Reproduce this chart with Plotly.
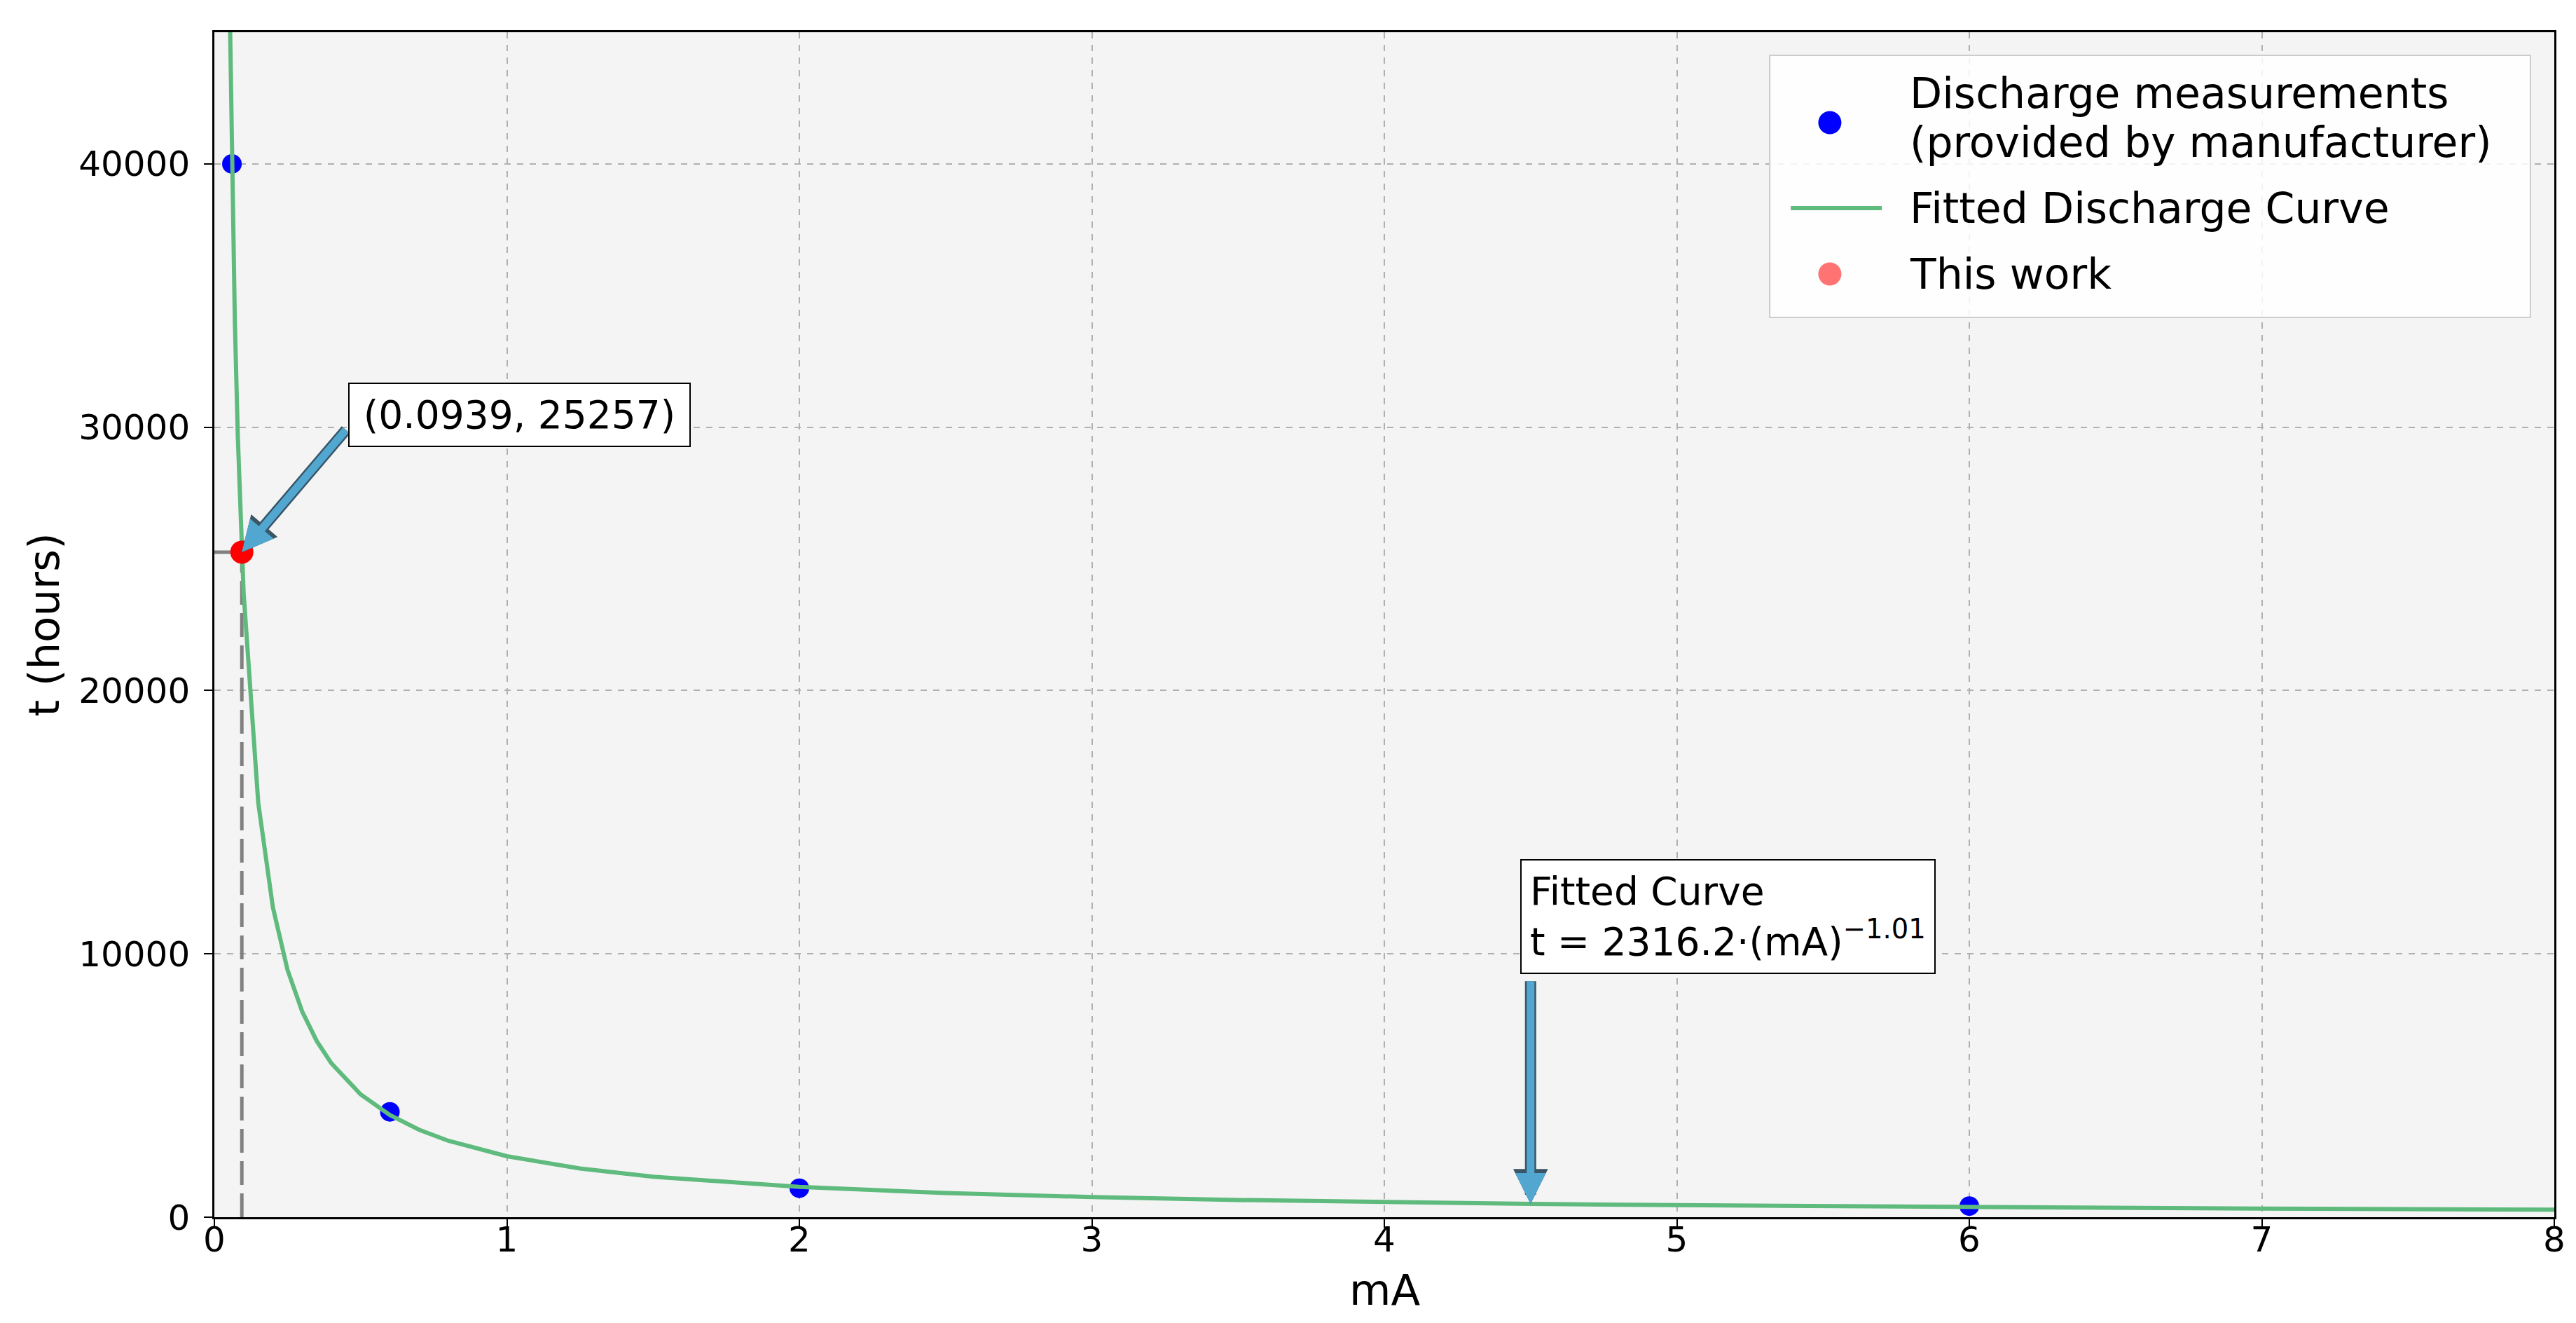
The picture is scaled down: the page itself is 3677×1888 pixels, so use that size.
import plotly.graph_objects as go

meas_ma = [0.06, 0.6, 2, 6]
meas_t = [40000, 4000, 1100, 420]

# fitted curve samples, t = 2316.2 * mA^-1.01
fit_ma = [0.05, 0.06, 0.07, 0.08, 0.0939, 0.1, 0.15, 0.2, 0.25, 0.3, 0.35, 0.4, 0.5,
          0.6, 0.7, 0.8, 1.0, 1.25, 1.5, 2, 2.5, 3, 3.5, 4, 4.5, 5, 6, 7, 8]
fit_t = [47740, 39700, 34000, 29700, 25257, 23702, 15737, 11769, 9393, 7814, 6688, 5844, 4665,
         3880, 3321, 2902, 2316, 1849, 1538, 1150, 918, 764, 653, 571, 507, 456, 379, 324, 284]

# this work
work_ma = [0.0939]
work_t = [25257]

x_ticks = [0, 1, 2, 3, 4, 5, 6, 7, 8]
y_ticks = [0, 10000, 20000, 30000, 40000]

FONT = 'DejaVu Sans'
C_BLUE = '#0000ff'
C_RED = '#ff0000'
C_RED_LEG = 'rgba(255,0,0,0.55)'
C_GREEN = '#5fba7d'
C_ARROW = '#52a7d0'
C_ARROW_EDGE = '#3a5566'
C_BG = '#f4f4f4'

fig = go.Figure()

# guide lines to the working point
fig.add_trace(go.Scatter(x=[work_ma[0], work_ma[0]], y=[0, work_t[0]], mode='lines',
                         line=dict(color='#808080', width=5, dash='34px,12px'),
                         showlegend=False, hoverinfo='skip'))
fig.add_trace(go.Scatter(x=[0, work_ma[0]], y=[work_t[0], work_t[0]], mode='lines',
                         line=dict(color='#808080', width=5),
                         showlegend=False, hoverinfo='skip'))

fig.add_trace(go.Scatter(x=meas_ma, y=meas_t, mode='markers',
                         name='Discharge measurements (provided by manufacturer)',
                         marker=dict(color=C_BLUE, size=28)))
fig.add_trace(go.Scatter(x=fit_ma, y=fit_t, mode='lines', name='Fitted Discharge Curve',
                         line=dict(color=C_GREEN, width=6)))
fig.add_trace(go.Scatter(x=work_ma, y=work_t, mode='markers', name='This work',
                         marker=dict(color=C_RED, size=33)))


def arrow(x, y, ax, ay):
    # outline underneath, fill on top
    for col, w, s in ((C_ARROW_EDGE, 16, 0.62), (C_ARROW, 11, 0.8)):
        fig.add_annotation(x=x, y=y, ax=ax, ay=ay, xref='x', yref='y', axref='x', ayref='y',
                           text='', showarrow=True, arrowhead=2, arrowsize=s,
                           arrowwidth=w, arrowcolor=col, standoff=0)


arrow(work_ma[0], work_t[0], 0.453, 29940)
arrow(4.5, 507, 4.5, 9000)

fig.add_annotation(x=0.457, y=30466, xref='x', yref='y', xanchor='left', yanchor='middle',
                   text=f'({work_ma[0]}, {work_t[0]})', showarrow=False,
                   width=465, height=68,
                   font=dict(family=FONT, size=55, color='black'),
                   bgcolor='white', bordercolor='black', borderwidth=2, borderpad=10)
fig.add_annotation(x=4.465, y=11425, xref='x', yref='y', xanchor='left', yanchor='middle',
                   text='Fitted Curve<br>t = 2316.2·(mA)<sup>−1.01</sup>', showarrow=False,
                   align='left', font=dict(family=FONT, size=55, color='black'),
                   bgcolor='white', bordercolor='black', borderwidth=2, borderpad=12)

# legend drawn by hand so the symbols keep their real size
fig.add_shape(type='rect', xref='paper', yref='paper', x0=0.6647, x1=0.9898, y0=0.7593, y1=0.9805,
              fillcolor='rgba(255,255,255,0.85)', line=dict(color='#cccccc', width=2), layer='above')
leg_items = [('circle', C_BLUE, 0.9237), ('line', C_GREEN, 0.8516), ('circle', C_RED_LEG, 0.7960)]
for kind, col, yy in leg_items:
    if kind == 'circle':
        fig.add_shape(type='circle', xref='paper', yref='paper', xsizemode='pixel', ysizemode='pixel',
                      xanchor=0.6904, yanchor=yy, x0=-16.5, x1=16.5, y0=-16.5, y1=16.5,
                      fillcolor=col, line=dict(width=0), layer='above')
    else:
        fig.add_shape(type='line', xref='paper', yref='paper', x0=0.6737, x1=0.7126, y0=yy, y1=yy,
                      line=dict(color=col, width=6), layer='above')
leg_text = [('Discharge measurements', 0.9486), ('(provided by manufacturer)', 0.9072),
            ('Fitted Discharge Curve', 0.8516), ('This work', 0.7960)]
for txt, yy in leg_text:
    fig.add_annotation(x=0.7240, y=yy, xref='paper', yref='paper', xanchor='left', yanchor='middle',
                       text=txt, showarrow=False, font=dict(family=FONT, size=60, color='black'))

# axis titles
fig.add_annotation(x=0.5, y=-0.061, xref='paper', yref='paper', xanchor='center', yanchor='middle',
                   text='mA', showarrow=False, font=dict(family=FONT, size=61, color='black'))
fig.add_annotation(x=-0.073, y=0.5, xref='paper', yref='paper', xanchor='center', yanchor='middle',
                   text='t (hours)', textangle=-90, showarrow=False,
                   font=dict(family=FONT, size=61, color='black'))

axis_style = dict(showline=True, linecolor='black', linewidth=2.5, mirror=True,
                  ticks='outside', ticklen=12, tickwidth=2, tickcolor='black',
                  showgrid=True, gridcolor='#b0b0b0', gridwidth=1.5, griddash='dash',
                  zeroline=False, tickfont=dict(family=FONT, size=50, color='black'))

fig.update_xaxes(range=[0, 8], tickvals=x_ticks, ticklabelstandoff=-26, **axis_style)
fig.update_yaxes(range=[0, 45000], tickvals=y_ticks, tickformat='d', ticklabelstandoff=10,
                 **axis_style)

fig.update_layout(
    width=3677, height=1888,
    margin=dict(l=298, r=39, t=38, b=159),
    paper_bgcolor='white', plot_bgcolor=C_BG,
    font=dict(family=FONT, color='black'),
    showlegend=False,
)

fig.write_html('out.html')
